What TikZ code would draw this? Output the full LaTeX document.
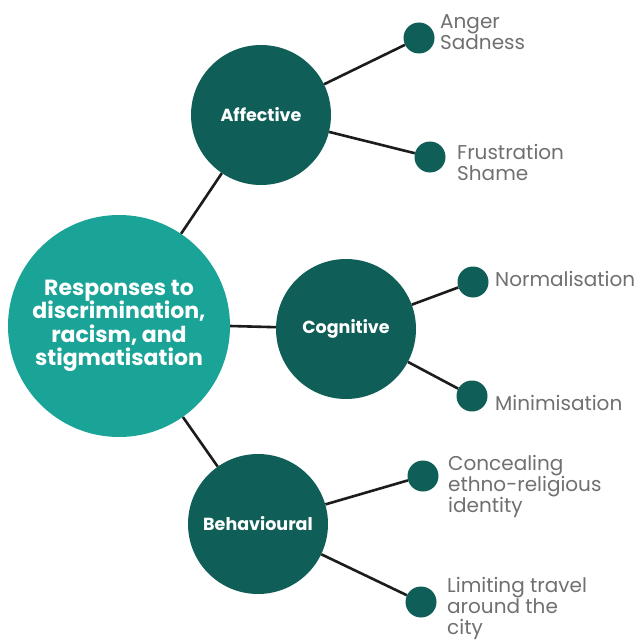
\documentclass[tikz,border=0pt]{standalone}
\usepackage{fontspec}
\setmainfont{Poppins}
\begin{document}
\definecolor{mainteal}{HTML}{1AA397}
\definecolor{darkteal}{HTML}{0F5E57}
\definecolor{labelgray}{HTML}{707070}
\definecolor{linkcol}{HTML}{1C1C1C}
\begin{tikzpicture}[x=1pt,y=-1pt,
  hub/.style={circle,fill=mainteal,text=white,align=center,minimum size=222pt,inner sep=0pt,
    font=\fontsize{22}{23.5}\selectfont\bfseries},
  branch/.style={circle,fill=darkteal,text=white,minimum size=140pt,inner sep=0pt,
    font=\fontsize{17.5}{20}\selectfont\bfseries},
  leaf/.style={circle,fill=darkteal,minimum size=31pt,inner sep=0pt},
  leaftext/.style={anchor=west,align=left,text=labelgray,inner sep=0pt,
    font=\fontsize{20}{21}\selectfont},
  link/.style={draw=linkcol,line width=2.6pt}]
\useasboundingbox (0,0) rectangle (643,642);
\fill[white] (0,0) rectangle (643,642);

% leaves
\node[leaf] (anger) at (419,38) {};
\node[leaf] (frus) at (430,157) {};
\node[leaf] (norm) at (473,282) {};
\node[leaf] (mini) at (472,396) {};
\node[leaf] (conc) at (423,476) {};
\node[leaf] (limit) at (421,602) {};

% category circles and the central hub
\node[branch] (aff) at (261,115) {Affective};
\node[branch] (cog) at (346,329) {Cognitive};
\node[branch] (beh) at (258,524) {Behavioural};
\node[hub] (hub) at (119,326) {Responses to\\discrimination,\\racism, and\\stigmatisation};

% connectors
\draw[link] (hub) -- (aff);
\draw[link] (hub.east) -- (cog);
\draw[link] (hub) -- (beh);
\draw[link] (aff) -- (anger);
\draw[link] (aff) -- (frus);
\draw[link] (cog) -- (norm);
\draw[link] (cog) -- (mini);
\draw[link] (beh) -- (conc);
\draw[link] (beh) -- (limit);

% leaf labels
\node[leaftext] (tanger) at (440,32) {Anger\\Sadness};
\node[leaftext] (tfrus) at (457,162) {Frustration\\Shame};
\node[leaftext] (tnorm) at (495,279) {Normalisation};
\node[leaftext] (tmini) at (495,403) {Minimisation};
\node[leaftext] (tconc) at (448,486) {Concealing\\ethno-religious\\identity};
\node[leaftext] (tlimit) at (447,608) {Limiting travel\\around the\\city};
\end{tikzpicture}
\end{document}
